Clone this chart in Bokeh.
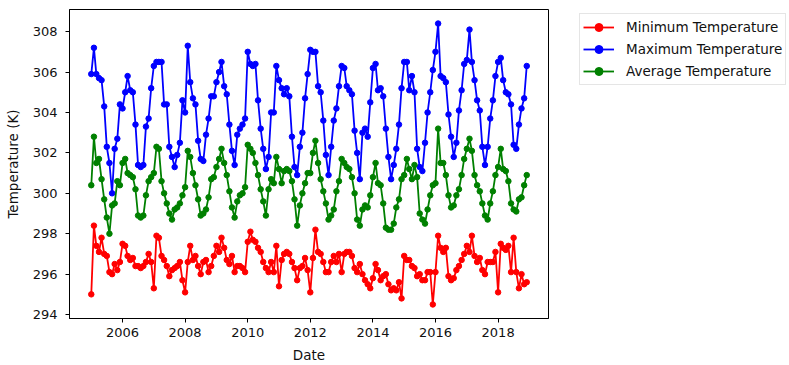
import pandas as pd
from bokeh.plotting import figure
from bokeh.layouts import row
from bokeh.models import Range1d, FixedTicker, DatetimeTickFormatter, Legend, LegendItem
from bokeh.embed import file_html
from bokeh.resources import INLINE

# Monthly values, Jan 2005 .. Dec 2018 (one row per year)
min_temp = [
    295.0, 298.4, 297.4, 297.1, 297.8, 297.0, 296.9, 296.1, 296.0, 296.5, 296.2, 296.6,
    297.5, 297.4, 296.9, 296.7, 296.8, 296.4, 296.4, 296.3, 296.4, 296.6, 297.0, 296.6,
    295.3, 297.9, 297.8, 296.9, 296.7, 296.4, 295.9, 296.2, 296.3, 296.4, 296.6, 295.7,
    295.1, 296.6, 297.4, 296.7, 296.9, 296.4, 296.0, 296.6, 296.7, 296.1, 296.4, 296.9,
    297.4, 297.1, 297.8, 297.3, 296.7, 296.5, 296.9, 296.1, 296.4, 296.4, 296.3, 296.1,
    297.6, 298.1, 297.7, 297.6, 297.3, 297.1, 296.6, 296.3, 296.1, 296.6, 296.1, 297.4,
    295.4, 296.7, 297.0, 297.1, 297.0, 296.6, 296.3, 295.7, 296.3, 296.4, 296.8, 296.2,
    295.1, 296.8, 298.2, 297.1, 297.0, 296.6, 296.1, 296.1, 296.6, 296.9, 296.6, 297.0,
    296.1, 297.0, 297.1, 297.1, 296.9, 296.3, 296.1, 296.5, 296.0, 295.7, 295.5, 295.3,
    295.8, 296.5, 296.2, 295.7, 295.9, 296.0, 295.5, 295.2, 295.3, 295.2, 295.6, 294.8,
    296.9, 296.7, 296.7, 296.4, 296.3, 295.9, 296.0, 295.7, 295.7, 296.1, 296.1, 294.5,
    296.1, 297.9, 297.3, 297.1, 297.3, 295.9, 295.7, 295.8, 296.2, 296.4, 296.7, 297.0,
    297.4, 297.1, 297.9, 296.9, 296.6, 296.8, 296.2, 296.0, 296.6, 296.6, 296.6, 297.1,
    295.1, 297.5, 297.3, 297.2, 297.4, 296.1, 297.8, 296.1, 295.3, 296.0, 295.5, 295.6,
]
max_temp = [
    305.9, 307.2, 305.9, 305.7, 305.6, 304.3, 302.3, 301.5, 300.0, 302.2, 302.7, 304.4,
    304.2, 305.0, 305.8, 305.1, 305.0, 303.4, 301.4, 301.3, 301.4, 303.3, 303.7, 305.2,
    306.3, 306.5, 306.5, 306.5, 304.4, 304.4, 302.3, 301.8, 301.3, 301.9, 302.5, 304.6,
    304.0, 307.3, 305.5, 304.7, 304.4, 302.6, 301.7, 301.6, 302.9, 303.7, 304.8, 304.8,
    305.5, 306.0, 306.5, 305.3, 304.9, 303.4, 302.1, 301.4, 302.9, 303.2, 303.4, 303.7,
    307.0, 306.4, 306.3, 306.4, 304.6, 303.2, 302.2, 301.2, 301.8, 304.0, 304.0, 306.3,
    305.6, 305.2, 304.9, 305.2, 304.8, 302.8, 301.3, 300.9, 302.3, 303.0, 304.7, 305.9,
    307.1, 307.0, 307.0, 305.3, 305.0, 303.6, 301.9, 300.9, 302.3, 303.6, 304.2, 305.3,
    306.3, 306.2, 305.3, 305.1, 304.9, 303.1, 302.0, 300.7, 303.0, 303.2, 302.8, 304.5,
    306.2, 306.4, 305.1, 305.2, 304.8, 303.2, 301.8, 300.7, 301.4, 302.2, 303.4, 305.2,
    306.5, 306.5, 305.1, 305.8, 305.0, 302.2, 301.3, 301.1, 302.5, 304.0, 305.0, 306.1,
    307.0, 308.4, 305.8, 305.7, 305.5, 303.9, 302.8, 301.8, 302.5, 304.1, 305.1, 306.4,
    306.6, 308.1, 306.5, 305.6, 304.6, 304.1, 302.3, 301.4, 302.3, 303.7, 304.6, 305.8,
    306.5, 306.7, 305.6, 305.0, 304.9, 304.4, 302.4, 302.2, 303.4, 304.2, 304.7, 306.3,
]
avg_temp = [
    300.4, 302.8, 301.5, 301.7, 300.7, 299.7, 298.8, 298.0, 299.4, 299.5, 300.6, 300.4,
    301.5, 301.7, 301.0, 300.9, 300.8, 300.2, 298.9, 298.8, 298.9, 299.9, 300.6, 300.8,
    301.0, 302.3, 302.2, 300.6, 300.0, 299.5, 299.0, 298.7, 299.2, 299.3, 299.5, 299.9,
    300.3, 302.1, 301.8, 301.0, 300.4, 299.7, 298.9, 299.0, 299.2, 299.8, 300.7, 300.8,
    301.3, 301.7, 302.2, 301.5, 300.9, 300.1, 299.3, 298.8, 299.6, 299.9, 300.0, 300.3,
    302.4, 302.2, 302.0, 301.5, 300.9, 300.2, 299.6, 298.9, 300.2, 300.7, 300.5, 301.8,
    301.2, 300.5, 301.1, 301.2, 301.1, 300.6, 299.7, 298.4, 299.4, 300.0, 300.5, 301.0,
    301.0, 302.0, 302.6, 301.5, 300.7, 300.1, 299.5, 298.7, 298.9, 299.2, 300.1, 300.6,
    301.7, 301.5, 301.3, 301.2, 300.8, 300.0, 298.7, 298.4, 299.2, 299.4, 299.3, 299.9,
    300.8, 301.5, 300.5, 300.4, 299.5, 298.3, 298.2, 298.2, 298.5, 299.3, 299.7, 300.7,
    300.9, 301.7, 301.2, 300.7, 301.4, 300.8, 299.0, 298.7, 298.5, 299.2, 299.9, 300.4,
    300.5, 303.2, 301.5, 301.5, 300.9, 299.9, 299.3, 299.4, 299.9, 300.2, 300.9, 301.7,
    302.2, 302.7, 302.1, 300.9, 300.4, 300.1, 299.5, 298.9, 298.7, 299.5, 300.1, 300.9,
    301.3, 302.2, 301.2, 301.1, 300.6, 299.5, 299.2, 299.1, 299.7, 299.8, 300.4, 300.9,
]
series_labels = ["Minimum Temperature", "Maximum Temperature", "Average Temperature"]
x_tick_years = [2006, 2008, 2010, 2012, 2014, 2016, 2018]
y_ticks = [294, 296, 298, 300, 302, 304, 306, 308]
colors = ["#ff0000", "#0000ff", "#008000"]

dates = pd.date_range("2005-01-01", periods=len(min_temp), freq="MS")
span = dates[-1] - dates[0]
x_range = Range1d(start=dates[0] - span * 0.05, end=dates[-1] + span * 0.05)
all_vals = min_temp + max_temp + avg_temp
lo, hi = min(all_vals), max(all_vals)
y_range = Range1d(start=lo - 0.05 * (hi - lo), end=hi + 0.05 * (hi - lo))

FONT = "DejaVu Sans"
H = 365

p = figure(width=549, height=H, x_axis_type="datetime",
           x_range=x_range, y_range=y_range,
           output_backend="svg", toolbar_location=None,
           min_border_left=69, min_border_right=1,
           min_border_top=9, min_border_bottom=47)
p.background_fill_color = "white"
p.border_fill_color = "white"
p.xgrid.visible = False
p.ygrid.visible = False
p.outline_line_color = "black"
p.outline_line_width = 1
p.outline_line_alpha = 1.0

p.xaxis.ticker = FixedTicker(ticks=[pd.Timestamp(f"{y}-01-01").timestamp() * 1000 for y in x_tick_years])
p.xaxis.formatter = DatetimeTickFormatter(years="%Y", months="%Y", days="%Y", hours="%Y")
p.yaxis.ticker = FixedTicker(ticks=y_ticks)

for ax in (p.xaxis[0], p.yaxis[0]):
    ax.axis_line_color = "black"
    ax.major_tick_line_color = "black"
    ax.major_tick_out = 4
    ax.major_tick_in = 0
    ax.minor_tick_out = 0
    ax.minor_tick_in = 0
    ax.major_label_text_font = FONT
    ax.major_label_text_font_size = "13px"
    ax.major_label_text_color = "#111111"
    ax.axis_label_text_font = FONT
    ax.axis_label_text_font_size = "13.5px"
    ax.axis_label_text_font_style = "normal"
    ax.axis_label_text_color = "#111111"

p.xaxis.axis_label = "Date"
p.yaxis.axis_label = "Temperature (K)"
p.xaxis.major_label_standoff = 5
p.xaxis.axis_label_standoff = 7
p.yaxis.major_label_standoff = 8
p.yaxis.axis_label_standoff = 9

for vals, col in zip([min_temp, max_temp, avg_temp], colors):
    p.line(dates, vals, line_color=col, line_width=1.8)
    p.scatter(dates, vals, size=5.5, fill_color=col, line_color=col)

# Legend panel to the right of the axes (its own renderers sit outside its visible range)
q = figure(width=240, height=H, x_range=Range1d(0, 1), y_range=Range1d(0, 1),
           output_backend="svg", toolbar_location=None,
           x_axis_location=None, y_axis_location=None,
           min_border=0, outline_line_color=None)
q.xgrid.visible = False
q.ygrid.visible = False
q.background_fill_color = "white"
q.border_fill_color = "white"

items = []
for label, col in zip(series_labels, colors):
    r1 = q.line([-5, -4], [-5, -4], line_color=col, line_width=1.8)
    r2 = q.scatter([-5], [-5], size=5.5, fill_color=col, line_color=col)
    items.append(LegendItem(label=label, renderers=[r1, r2]))

legend = Legend(items=items, location=(30, 233))
legend.label_text_font = FONT
legend.label_text_font_size = "13.5px"
legend.label_text_color = "#111111"
legend.border_line_color = "#cccccc"
legend.border_line_width = 1
legend.background_fill_color = "white"
legend.background_fill_alpha = 1.0
legend.glyph_width = 31
legend.glyph_height = 20
legend.label_height = 20
legend.label_standoff = 12
legend.spacing = 2
legend.padding = 3
legend.margin = 0
q.add_layout(legend)

layout = row(p, q)
open("out.html", "w").write(file_html(layout, INLINE))
